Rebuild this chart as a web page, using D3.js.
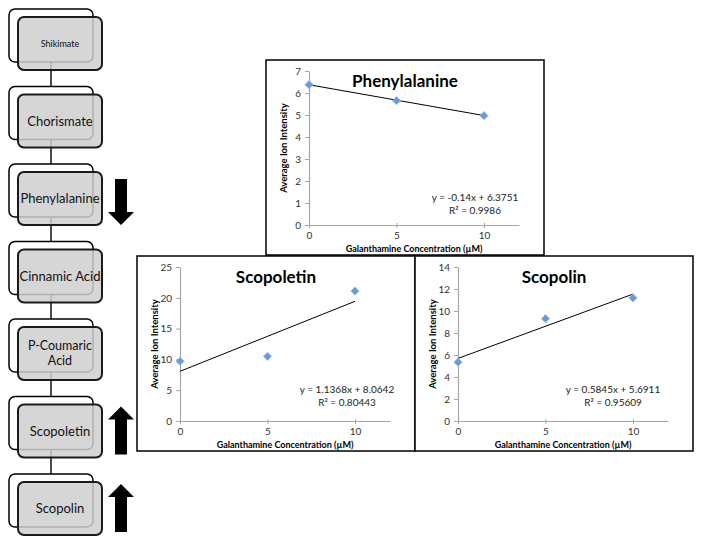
<!DOCTYPE html>
<html>
<head>
  <meta charset="utf-8">
  <title>Galanthamine pathway</title>
  <script src="https://d3js.org/d3.v7.min.js"></script>
  <style>
    body { margin: 0; background: #fff; }
    svg text { font-family: Lato, "Open Sans", sans-serif; }
  </style>
</head>
<body>
  <div id="chart"></div>
  <script>
    // pathway nodes (top to bottom) and direction of change
    var pathwayLabels = [["Shikimate"], ["Chorismate"], ["Phenylalanine"], ["Cinnamic Acid"], ["P-Coumaric", "Acid"], ["Scopoletin"], ["Scopolin"]];
    var pathwayChange = [null, null, "down", null, null, "up", "up"];

    // chart data
    var concentrations = [0, 5, 10];
    var phenylalanineValues = [6.38, 5.65, 4.97];
    var scopoletinValues = [9.7, 10.5, 21.1];
    var scopolinValues = [5.35, 9.3, 11.2];
    var chartTitles = ["Phenylalanine", "Scopoletin", "Scopolin"];
    var yMax = [7, 25, 14];
    var yStep = [1, 5, 2];
    var fitSlope = [-0.14, 1.1368, 0.5845];
    var fitIntercept = [6.3751, 8.0642, 5.6911];
    var fitEquation = ["y = -0.14x + 6.3751", "y = 1.1368x + 8.0642", "y = 0.5845x + 5.6911"];
    var fitR2 = ["R² = 0.9986", "R² = 0.80443", "R² = 0.95609"];
    var xTicks = [0, 5, 10];

    var svg = d3.select("#chart").append("svg")
      .attr("width", 702)
      .attr("height", 545);

    // ---------- pathway ----------
    var y0 = 17, stepY = 77.5, boxW = 84, boxH = 53;
    var node = d3.scaleLinear().domain([0, 1]).range([y0, y0 + stepY]);

    // connector line behind the boxes
    svg.append("line")
      .attr("x1", 51).attr("x2", 51)
      .attr("y1", node(0) + 20).attr("y2", node(pathwayLabels.length - 1))
      .attr("stroke", "#111").attr("stroke-width", 1.5);

    var nodes = svg.selectAll(".node")
      .data(pathwayLabels)
      .enter().append("g")
      .attr("class", "node")
      .attr("transform", function(d, i) { return "translate(18," + node(i) + ")"; });

    nodes.append("rect")
      .attr("x", -9).attr("y", -8)
      .attr("width", boxW).attr("height", boxH)
      .attr("rx", 6)
      .attr("fill", "#fff")
      .attr("stroke", "#000")
      .attr("stroke-width", 1.5);

    nodes.append("rect")
      .attr("width", boxW).attr("height", boxH)
      .attr("rx", 6)
      .attr("fill", "#cfcfcf")
      .attr("fill-opacity", 0.85)
      .attr("stroke", "#1a1a1a")
      .attr("stroke-width", 2);

    nodes.each(function(d, i) {
      var g = d3.select(this);
      var size = i === 0 ? 9 : (d.length > 1 ? 12.5 : 13);
      var lh = 15;
      d.forEach(function(line, j) {
        g.append("text")
          .attr("x", boxW / 2)
          .attr("y", boxH / 2 + (j - (d.length - 1) / 2) * lh)
          .attr("dy", "0.35em")
          .attr("text-anchor", "middle")
          .style("font-size", size + "px")
          .attr("fill", "#111")
          .text(line);
      });
    });

    // change arrows
    nodes.filter(function(d, i) { return pathwayChange[i]; })
      .append("path")
      .attr("d", function(d) {
        var i = pathwayLabels.indexOf(d);
        if (pathwayChange[i] === "down") {
          return "M97,7 H109 V40 H116 L103,53 L90,40 H97 Z";
        }
        return "M103,2 L116,15 H109 V50 H97 V15 H90 Z";
      })
      .attr("fill", "#000");

    // ---------- charts ----------
    var chartBoxes = [[266, 60], [137, 256], [415, 256]];
    var chartValues = [phenylalanineValues, scopoletinValues, scopolinValues];
    var eqPos = [[209, 141], [210, 137], [198, 137]];

    chartBoxes.forEach(function(b, k) {
      var bx = b[0], by = b[1];
      var g = svg.append("g").attr("transform", "translate(" + bx + "," + by + ")");

      g.append("rect")
        .attr("width", 278).attr("height", 195)
        .attr("fill", "#fff")
        .attr("stroke", "#000")
        .attr("stroke-width", 1.5);

      var x = d3.scaleLinear().domain([0, 12]).range([43, 253]);
      var y = d3.scaleLinear().domain([0, yMax[k]]).range([165, 11]);

      var yAxis = g.append("g")
        .attr("transform", "translate(43,0)")
        .call(d3.axisLeft(y)
          .tickValues(d3.range(0, yMax[k] + 0.001, yStep[k]))
          .tickFormat(d3.format("d"))
          .tickSize(4).tickSizeOuter(0));
      var xAxis = g.append("g")
        .attr("transform", "translate(0,165)")
        .call(d3.axisBottom(x).tickValues(xTicks).tickFormat(d3.format("d")).tickSize(3).tickSizeOuter(0));

      [yAxis, xAxis].forEach(function(a) {
        a.select(".domain").attr("stroke", "#a6a6a6").attr("stroke-width", 1.2);
        a.selectAll(".tick line").attr("stroke", "#a6a6a6");
        a.selectAll(".tick text")
          .attr("fill", "#333")
          .style("font-size", "10px")
          .style("font-family", "Lato, sans-serif");
      });
      xAxis.selectAll(".tick line").attr("y1", -2);
      xAxis.selectAll(".tick text").attr("y", 7);
      yAxis.selectAll(".tick text").attr("x", -8);

      // axis titles
      g.append("text")
        .attr("x", 148).attr("y", 191.5)
        .attr("text-anchor", "middle")
        .style("font-size", "9px")
        .style("font-weight", "bold")
        .text("Galanthamine Concentration (µM)");
      g.append("text")
        .attr("transform", "translate(21," + (88) + ") rotate(-90)")
        .attr("text-anchor", "middle")
        .style("font-size", "9.5px")
        .style("font-weight", "bold")
        .text("Average Ion Intensity");

      // title
      g.append("text")
        .attr("x", 139).attr("y", 27)
        .attr("text-anchor", "middle")
        .style("font-size", "17px")
        .style("font-weight", "bold")
        .text(chartTitles[k]);

      // trend line
      g.append("line")
        .attr("x1", x(0)).attr("y1", y(fitIntercept[k]))
        .attr("x2", x(10)).attr("y2", y(fitIntercept[k] + fitSlope[k] * 10))
        .attr("stroke", "#000")
        .attr("stroke-width", 1);

      // points
      g.selectAll(".pt")
        .data(chartValues[k])
        .enter().append("path")
        .attr("class", "pt")
        .attr("d", d3.symbol(d3.symbolSquare, 34))
        .attr("transform", function(d, i) { return "translate(" + x(concentrations[i]) + "," + y(d) + ") rotate(45)"; })
        .attr("fill", "#6a9bd3")
        .attr("stroke", "#9bbce3")
        .attr("stroke-width", 0.8);

      // regression label
      [fitEquation[k], fitR2[k]].forEach(function(t, j) {
        g.append("text")
          .attr("x", eqPos[k][0])
          .attr("y", eqPos[k][1] + j * 13)
          .attr("text-anchor", "middle")
          .attr("fill", "#222")
          .style("font-size", "10px")
          .text(t);
      });
    });
  </script>
</body>
</html>
